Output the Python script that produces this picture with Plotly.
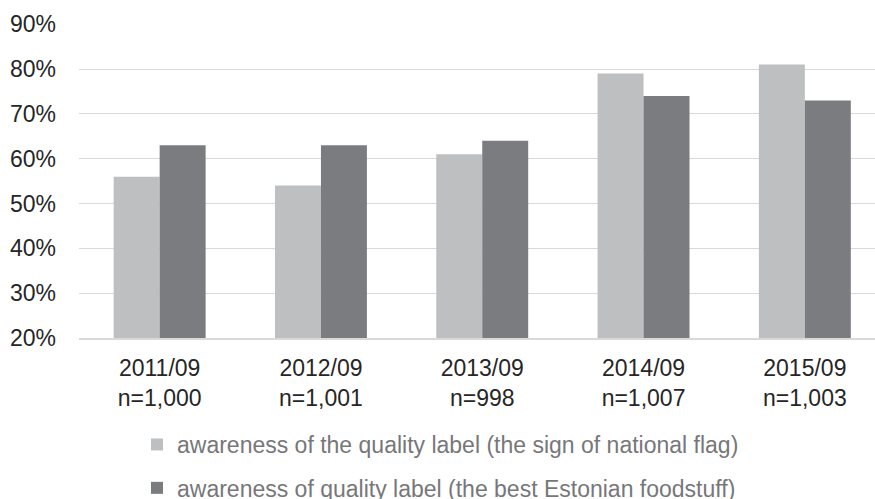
import plotly.graph_objects as go

categories = ["2011/09<br>n=1,000", "2012/09<br>n=1,001", "2013/09<br>n=998",
              "2014/09<br>n=1,007", "2015/09<br>n=1,003"]
flag_label = [56, 54, 61, 79, 81]
best_food = [63, 63, 64, 74, 73]
series_names = ["awareness of the quality label (the sign of national flag)",
                "awareness of quality label (the best Estonian foodstuff)"]
y_ticks = [20, 30, 40, 50, 60, 70, 80, 90]

FONT = "Arial, 'Liberation Sans', sans-serif"

fig = go.Figure()
fig.add_trace(go.Bar(x=categories, y=flag_label, name=series_names[0],
                     marker=dict(color="#bebfc1", line=dict(width=0)),
                     legendgroup="a"))
fig.add_trace(go.Bar(x=categories, y=best_food, name=series_names[1],
                     marker=dict(color="#7b7c7f", line=dict(width=0)),
                     legendgroup="b"))

fig.update_layout(
    width=875, height=499,
    margin=dict(l=79, r=0, t=24, b=161, autoexpand=False),
    paper_bgcolor="white", plot_bgcolor="white",
    barmode="group", bargap=0.43, bargroupgap=0,
    font=dict(family=FONT, size=23, color="#262626"),
    showlegend=True,
    legend=dict(orientation="v", x=137 / 875, xref="container", xanchor="left",
                y=1 - 423 / 499, yref="container", yanchor="top",
                font=dict(size=23, color="#77777a"),
                traceorder="grouped", tracegroupgap=10.5,
                bgcolor="rgba(0,0,0,0)", itemwidth=30),
)
fig.update_xaxes(type="category", range=[-0.5, 4.435], showgrid=False,
                 showline=True, linecolor="#d9d9d9", linewidth=1.5,
                 ticks="", tickfont=dict(size=23, color="#262626"),
                 ticklabelstandoff=9, automargin=False)
fig.update_yaxes(range=[20, 90.05], tickvals=y_ticks,
                 ticktext=[f"{v}%" for v in y_ticks],
                 showgrid=True, gridcolor="#d9d9d9", gridwidth=1.3,
                 zeroline=False, showline=False, ticks="",
                 tickfont=dict(size=23, color="#262626"),
                 ticklabelstandoff=22, automargin=False)

fig.write_html("out.html")
